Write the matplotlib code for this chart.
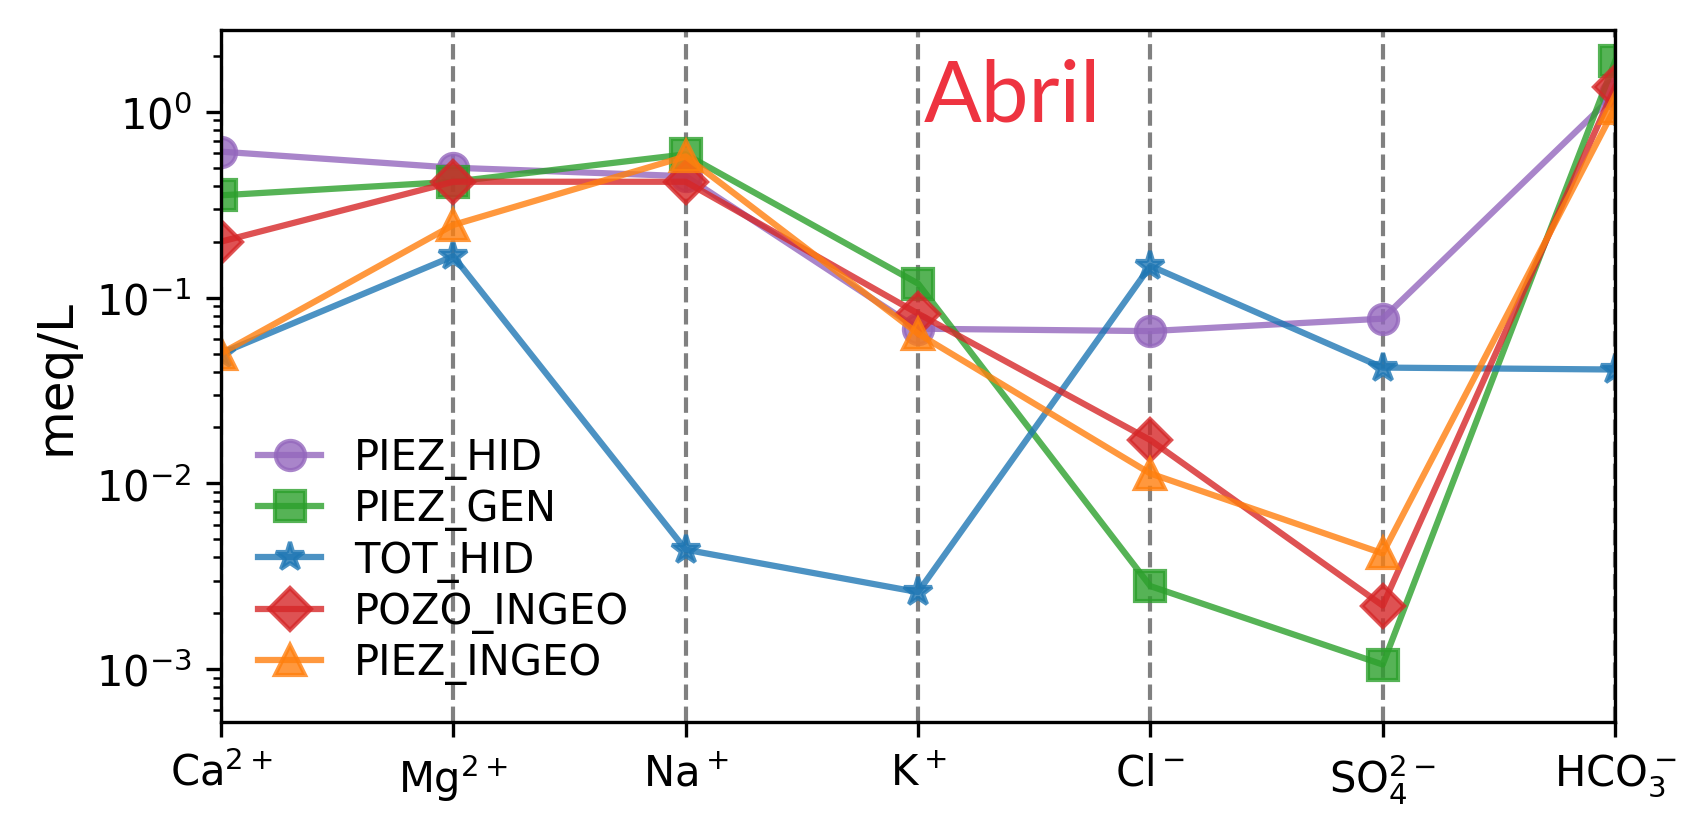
import numpy as np
import matplotlib
matplotlib.use("Agg")
import matplotlib.pyplot as plt

# iones (eje x)
iones = [r'Ca$^{2+}$', r'Mg$^{2+}$', r'Na$^+$', r'K$^+$', r'Cl$^-$',
         r'SO$_4^{2-}$', r'HCO$_3^-$']

# concentraciones en meq/L
piez_hid = [0.61, 0.50, 0.45, 0.068, 0.066, 0.077, 1.25]
piez_gen = [0.355, 0.42, 0.59, 0.119, 0.0028, 0.00106, 1.87]
tot_hid = [0.050, 0.167, 0.0044, 0.0026, 0.148, 0.042, 0.041]
pozo_ingeo = [0.20, 0.42, 0.42, 0.082, 0.0171, 0.0022, 1.36]
piez_ingeo = [0.050, 0.246, 0.575, 0.064, 0.0113, 0.0042, 1.05]

series = [
    ('PIEZ_HID', piez_hid, 'tab:purple', 'o'),
    ('PIEZ_GEN', piez_gen, 'tab:green', 's'),
    ('TOT_HID', tot_hid, 'tab:blue', '*'),
    ('POZO_INGEO', pozo_ingeo, 'tab:red', 'D'),
    ('PIEZ_INGEO', piez_ingeo, 'tab:orange', '^'),
]

fig = plt.figure(figsize=(1706 / 300, 834 / 300), dpi=300)
ax = fig.add_axes([0.1295, 0.1331, 0.8172, 0.8303])

x = np.arange(len(iones))
for i in x:
    ax.axvline(i, color='gray', ls='--', lw=1)

for nombre, datos, color, marca in series:
    ax.plot(x, datos, marker=marca, color=color, label=nombre,
            markersize=7, lw=1.5, alpha=0.8)

ax.set_yscale('log')
ax.set_xlim(0, len(iones) - 1)
ax.set_ylim(5.2e-4, 2.77)
ax.set_xticks(x)
ax.set_xticklabels(iones, fontsize=10)
ax.tick_params(axis='y', labelsize=10)
ax.set_ylabel('meq/L', fontsize=12)

ax.text(0.504, 0.868, 'Abril', transform=ax.transAxes, fontsize=20.5,
        family='Lato', color='#ee3340', ha='left', va='baseline')

ax.legend(loc='lower left', frameon=False, fontsize=10,
          handlelength=1.5, labelspacing=0.2)

fig.savefig('out.png', dpi=300)
